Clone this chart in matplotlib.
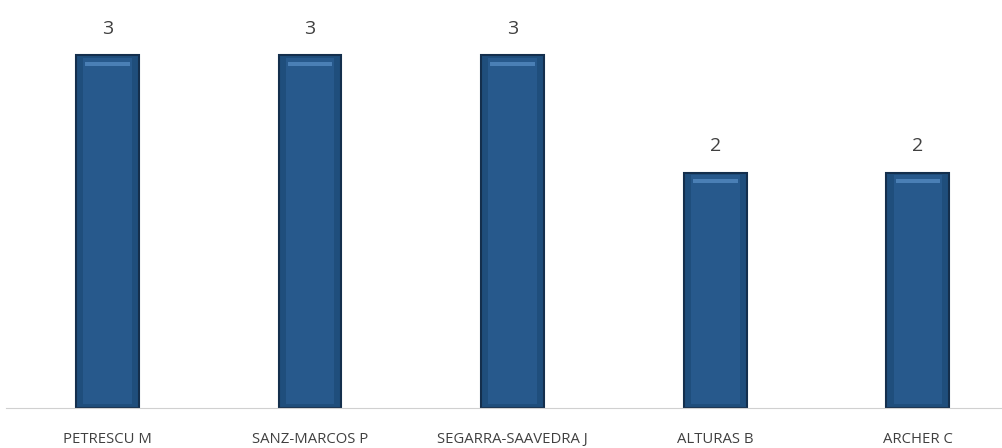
import matplotlib.pyplot as plt
import numpy as np

names = ["PETRESCU M", "SANZ-MARCOS P", "SEGARRA-SAAVEDRA J", "ALTURAS B", "ARCHER C"]
counts = [3, 3, 3, 2, 2]

fig = plt.figure(figsize=(10.03, 4.48), dpi=100)
ax = fig.add_axes([0.006, 0.0893, 0.994, 0.9107])

x = np.arange(len(names))
vals = np.array(counts, dtype=float)

# main bar with dark bevel edge
ax.bar(x, vals, width=0.31, color="#1f4e7c", edgecolor="#142f4d", linewidth=1.5, zorder=2)
# lighter inner face
ax.bar(x, vals - 0.05, bottom=0.03, width=0.24, color="#27598c", linewidth=0, zorder=3)
# top highlight
ax.bar(x, 0.035, bottom=vals - 0.09, width=0.22, color="#4a7fb5", linewidth=0, zorder=4)

for xi, v in zip(x, counts):
    ax.text(xi, v + 0.15, str(v), ha="center", va="bottom", fontsize=14,
            color="#404040", family="Open Sans")

ax.set_xlim(-0.5, 4.42)
ax.set_ylim(0, 3.47)
ax.set_yticks([])
ax.set_xticks(x)
ax.set_xticklabels(names, fontsize=10.7, color="#404040", family="Open Sans")
ax.tick_params(axis="x", length=0, pad=17)
for s in ["top", "right", "left"]:
    ax.spines[s].set_visible(False)
ax.spines["bottom"].set_color("#d0d0d0")

fig.savefig("out.png", dpi=100)
